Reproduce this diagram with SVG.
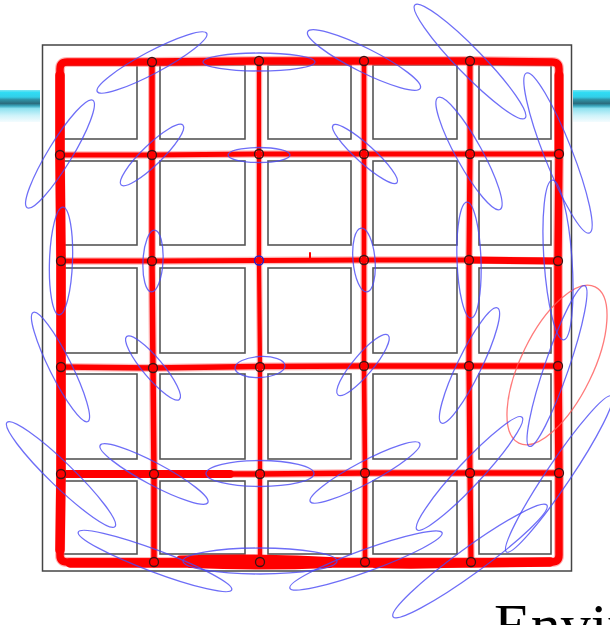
<svg xmlns="http://www.w3.org/2000/svg" width="610" height="625" viewBox="0 0 610 625">
  <defs>
    <linearGradient id="bar" gradientUnits="userSpaceOnUse" x1="0" y1="90" x2="0" y2="122">
      <stop offset="0" stop-color="#7ee6f2"/>
      <stop offset="0.08" stop-color="#2fdcf4"/>
      <stop offset="0.22" stop-color="#33cfe8"/>
      <stop offset="0.3" stop-color="#2f93a6"/>
      <stop offset="0.42" stop-color="#2a6c7e"/>
      <stop offset="0.5" stop-color="#3aa9c0"/>
      <stop offset="0.58" stop-color="#8fe2f0"/>
      <stop offset="0.8" stop-color="#cff3fa"/>
      <stop offset="1" stop-color="#f4fcfe"/>
    </linearGradient>
    <style>
      .frame{fill:none;stroke:#444;stroke-width:1.5}
      .obst{fill:none;stroke:#555;stroke-width:1.6}
      .trail{fill:none;stroke:#ff0000;stroke-linejoin:round;stroke-linecap:round}
      .halo{fill:none;stroke:#ff6060;stroke-opacity:0.45;stroke-linejoin:round;stroke-linecap:round}
      .lm{fill:none;stroke:#3a1515;stroke-width:1.3}
      .cov{fill:none;stroke:#4a4af5;stroke-opacity:0.8;stroke-width:1.3}
      .robot{fill:none;stroke:#ff5a5a;stroke-opacity:0.8;stroke-width:1.3}
      .title{font-family:"Liberation Serif","DejaVu Serif",serif;font-size:60px;fill:#000}
    </style>
  </defs>
  <rect width="610" height="625" fill="#ffffff"/>

  <g id="header-bars">
    <rect x="0" y="90" width="40" height="32" fill="url(#bar)"/>
    <rect x="573" y="90" width="37" height="32" fill="url(#bar)"/>
  </g>

  <g id="frame">
    <rect class="frame" x="42.5" y="45" width="529" height="526" fill="#fff"/>
  </g>

  <g id="obstacles" class="obst">
    <rect x="61" y="65" width="76" height="74"/>
    <rect x="160" y="65" width="85" height="74"/>
    <rect x="268" y="65" width="83" height="74"/>
    <rect x="373" y="65" width="84" height="74"/>
    <rect x="479" y="65" width="72" height="74"/>
    <rect x="61" y="161" width="76" height="84"/>
    <rect x="160" y="161" width="85" height="84"/>
    <rect x="268" y="161" width="83" height="84"/>
    <rect x="373" y="161" width="84" height="84"/>
    <rect x="479" y="161" width="72" height="84"/>
    <rect x="61" y="268" width="76" height="85"/>
    <rect x="160" y="268" width="85" height="85"/>
    <rect x="268" y="268" width="83" height="85"/>
    <rect x="373" y="268" width="84" height="85"/>
    <rect x="479" y="268" width="72" height="85"/>
    <rect x="61" y="374" width="76" height="85"/>
    <rect x="160" y="374" width="85" height="85"/>
    <rect x="268" y="374" width="83" height="85"/>
    <rect x="373" y="374" width="84" height="85"/>
    <rect x="479" y="374" width="72" height="85"/>
    <rect x="61" y="481" width="76" height="73"/>
    <rect x="160" y="481" width="85" height="73"/>
    <rect x="268" y="481" width="83" height="73"/>
    <rect x="373" y="481" width="84" height="73"/>
    <rect x="479" y="481" width="72" height="73"/>
  </g>

  <g id="connectors">
    <g class="halo">
      <path stroke-width="10" d="M67,62 L152,62 L259,61 L364,61 L470,61 L552,62 Q559,62 559,69 L559,154 L558,261 L558,366 L559,473 L559,555 Q559,562 552,562 L471,562 L365,562 L260,562 L154,562 L67,562 Q60,562 60,555 L61,474 L61,367 L61,261 L60,155 L60,69 Q60,62 67,62 Z"/>
      <path stroke-width="7.5" d="M60,155 L152,155 L259,154 L364,154 L470,154 L559,154"/>
      <path stroke-width="7.5" d="M61,261 L152,261 L259,260.5 L364,260 L469,260 L558,261"/>
      <path stroke-width="8" d="M61,367 L153,368 L260,366.5 L364,366 L469,366 L558,366"/>
      <path stroke-width="8" d="M61,474 L154,474 L260,474 L365,473 L470,473 L559,473"/>
      <path stroke-width="8" d="M152,62 L152,155 L152,261 L153,368 L154,474 L154,562"/>
      <path stroke-width="6.5" d="M259,61 L259,154 L259,261 L260,367 L260,474 L260,562"/>
      <path stroke-width="7" d="M364,61 L364,154 L364,260 L364,366 L365,473 L365,562"/>
      <path stroke-width="7.5" d="M470,61 L470,154 L469,260 L469,366 L470,473 L471,562"/>
    </g>
    <g class="trail">
      <path stroke-width="7.5" d="M67,62 L152,62 L259,61 L364,61 L470,61 L552,62 Q559,62 559,69 L559,154 L558,261 L558,366 L559,473 L559,555 Q559,562 552,562 L471,562 L365,562 L260,562 L154,562 L67,562 Q60,562 60,555 L61,474 L61,367 L61,261 L60,155 L60,69 Q60,62 67,62 Z"/>
      <path stroke-width="9.5" d="M60,75 L60,155 L61,261 L61,367 L61,474 L60,550"/>
      <path stroke-width="9.5" d="M70,563 L154,563 L260,563 L365,563 L471,563 L550,562"/>
      <path stroke-width="7" d="M180,559 Q260,556 340,561"/>
      <path stroke-width="6" d="M190,565 Q260,568 330,565"/>
      <path stroke-width="6" d="M375,565 Q420,567 465,564"/>
      <path stroke-width="9" d="M559,75 L559,154"/>
      <path stroke-width="5" d="M60,155 L152,155 L259,154 L364,154 L470,154 L559,154"/>
      <path stroke-width="5" d="M61,261 L152,261 L259,260.5 L364,260 L469,260 L558,261"/>
      <path stroke-width="7" d="M470,260 L558,261"/>
      <path stroke-width="5.5" d="M61,367 L153,368 L260,366.5 L364,366 L469,366 L558,366"/>
      <path stroke-width="5.5" d="M61,474 L154,474 L260,474 L365,473 L470,473 L559,473"/>
      <path stroke-width="8" d="M61,474 L154,474 L230,474"/>
      <path stroke-width="5.5" d="M152,62 L152,155 L152,261 L153,368 L154,474 L154,562"/>
      <path stroke-width="4.2" d="M259,61 L259,154 L259,261 L260,367 L260,474 L260,562"/>
      <path stroke-width="4.6" d="M364,61 L364,154 L364,260 L364,366 L365,473 L365,562"/>
      <path stroke-width="5.2" d="M470,61 L470,154 L469,260 L469,366 L470,473 L471,562"/>
      <path stroke-width="2" d="M310,260 L310,253"/>
    </g>
  </g>

  <g id="robot-uncertainty">
    <ellipse class="robot" cx="557" cy="365" rx="87" ry="36" transform="rotate(-64 557 365)"/>
  </g>

  <g id="landmarks">
    <g id="lm-1-0"><ellipse class="cov" cx="152" cy="62.5" rx="62" ry="11" transform="rotate(-28 152 62.5)"/><circle class="lm" cx="152" cy="62" r="4.5"/></g>
    <g id="lm-2-0"><ellipse class="cov" cx="259" cy="62" rx="56" ry="9"/><circle class="lm" cx="259" cy="61" r="4.5"/></g>
    <g id="lm-3-0"><ellipse class="cov" cx="364" cy="60" rx="63" ry="12" transform="rotate(26.6 364 60)"/><circle class="lm" cx="364" cy="61" r="4.5"/></g>
    <g id="lm-4-0"><ellipse class="cov" cx="470" cy="61.5" rx="79" ry="13" transform="rotate(45.8 470 61.5)"/><circle class="lm" cx="470" cy="61" r="4.5"/></g>

    <g id="lm-0-1"><ellipse class="cov" cx="60" cy="154" rx="63" ry="12" transform="rotate(-58.6 60 154)"/><circle class="lm" cx="60" cy="155" r="4.5"/></g>
    <g id="lm-1-1"><ellipse class="cov" cx="152" cy="155" rx="43" ry="10" transform="rotate(-44 152 155)"/><circle class="lm" cx="152" cy="155" r="4.5"/></g>
    <g id="lm-2-1"><ellipse class="cov" cx="259" cy="155" rx="31" ry="7.5"/><circle class="lm" cx="259" cy="154" r="4.5"/></g>
    <g id="lm-3-1"><ellipse class="cov" cx="365" cy="154" rx="43" ry="9" transform="rotate(42 365 154)"/><circle class="lm" cx="364" cy="154" r="4.5"/></g>
    <g id="lm-4-1"><ellipse class="cov" cx="469" cy="153.5" rx="64" ry="13" transform="rotate(61 469 153.5)"/><circle class="lm" cx="470" cy="154" r="4.5"/></g>
    <g id="lm-5-1"><ellipse class="cov" cx="558" cy="153" rx="86" ry="14" transform="rotate(68.5 558 153)"/><circle class="lm" cx="559" cy="154" r="4.5"/></g>

    <g id="lm-0-2"><ellipse class="cov" cx="61" cy="261" rx="11.5" ry="54" transform="rotate(2 61 261)"/><circle class="lm" cx="61" cy="261" r="4.5"/></g>
    <g id="lm-1-2"><ellipse class="cov" cx="153" cy="261" rx="10" ry="31" transform="rotate(3 153 261)"/><circle class="lm" cx="152" cy="261" r="4.5"/></g>
    <g id="lm-2-2"><circle cx="259" cy="260.5" r="4.5" fill="none" stroke="#2222cc" stroke-width="1.4"/></g>
    <g id="lm-3-2"><ellipse class="cov" cx="364" cy="260" rx="11" ry="32" transform="rotate(-5 364 260)"/><circle class="lm" cx="364" cy="260" r="4.5"/></g>
    <g id="lm-4-2"><ellipse class="cov" cx="469" cy="260" rx="12" ry="58" transform="rotate(-2 469 260)"/><circle class="lm" cx="469" cy="260" r="4.5"/></g>
    <g id="lm-5-2"><ellipse class="cov" cx="558" cy="260" rx="80" ry="14" transform="rotate(86 558 260)"/><circle class="lm" cx="558" cy="261" r="4.5"/></g>

    <g id="lm-0-3"><ellipse class="cov" cx="60.5" cy="367" rx="61" ry="11" transform="rotate(63.4 60.5 367)"/><circle class="lm" cx="61" cy="367" r="4.5"/></g>
    <g id="lm-1-3"><ellipse class="cov" cx="153" cy="368" rx="41" ry="10" transform="rotate(50 153 368)"/><circle class="lm" cx="153" cy="368" r="4.5"/></g>
    <g id="lm-2-3"><ellipse class="cov" cx="260" cy="367" rx="25" ry="10.5" transform="rotate(-3 260 367)"/><circle class="lm" cx="260" cy="367" r="4.5"/></g>
    <g id="lm-3-3"><ellipse class="cov" cx="363" cy="365" rx="39" ry="10" transform="rotate(-50 363 365)"/><circle class="lm" cx="364" cy="366" r="4.5"/></g>
    <g id="lm-4-3"><ellipse class="cov" cx="469.5" cy="365.5" rx="64" ry="12" transform="rotate(-64 469.5 365.5)"/><circle class="lm" cx="469" cy="366" r="4.5"/></g>
    <g id="lm-5-3"><ellipse class="cov" cx="557" cy="366" rx="85" ry="12" transform="rotate(-71 557 366)"/><circle class="lm" cx="558" cy="366" r="4.5"/></g>

    <g id="lm-0-4"><ellipse class="cov" cx="61" cy="474.5" rx="75" ry="12" transform="rotate(44 61 474.5)"/><circle class="lm" cx="61" cy="474" r="4.5"/></g>
    <g id="lm-1-4"><ellipse class="cov" cx="154" cy="474" rx="61" ry="11" transform="rotate(28 154 474)"/><circle class="lm" cx="154" cy="474" r="4.5"/></g>
    <g id="lm-2-4"><ellipse class="cov" cx="260" cy="473.5" rx="54" ry="13"/><circle class="lm" cx="260" cy="474" r="4.5"/></g>
    <g id="lm-3-4"><ellipse class="cov" cx="365" cy="472.5" rx="62" ry="11" transform="rotate(-28 365 472.5)"/><circle class="lm" cx="365" cy="473" r="4.5"/></g>
    <g id="lm-4-4"><ellipse class="cov" cx="469.5" cy="473.5" rx="77" ry="12" transform="rotate(-47 469.5 473.5)"/><circle class="lm" cx="470" cy="473" r="4.5"/></g>
    <g id="lm-5-4"><ellipse class="cov" cx="559" cy="474" rx="94" ry="12" transform="rotate(-56 559 474)"/><circle class="lm" cx="559" cy="473" r="4.5"/></g>

    <g id="lm-1-5"><ellipse class="cov" cx="155" cy="561" rx="82" ry="11" transform="rotate(20.6 155 561)"/><circle class="lm" cx="154" cy="562" r="4.5"/></g>
    <g id="lm-2-5"><ellipse class="cov" cx="260" cy="561" rx="77" ry="13"/><circle class="lm" cx="260" cy="562" r="4.5"/></g>
    <g id="lm-3-5"><ellipse class="cov" cx="366" cy="560.5" rx="81" ry="11" transform="rotate(-20 366 560.5)"/><circle class="lm" cx="365" cy="562" r="4.5"/></g>
    <g id="lm-4-5"><ellipse class="cov" cx="470" cy="561" rx="95" ry="13" transform="rotate(-36 470 561)"/><circle class="lm" cx="471" cy="562" r="4.5"/></g>
  </g>

  <g id="caption">
    <text class="title" x="494" y="645">Envir</text>
  </g>
</svg>
